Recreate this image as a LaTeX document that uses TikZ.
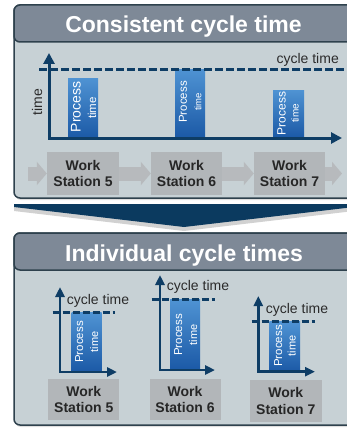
\documentclass[tikz,border=0pt]{standalone}
\usepackage{fontspec}
\setmainfont{Liberation Sans}
\usetikzlibrary{arrows.meta,shadows}
\definecolor{bodyc}{HTML}{C7D1D5}
\definecolor{headc}{HTML}{7E8997}
\definecolor{borderc}{HTML}{2E414D}
\definecolor{navy}{HTML}{0E3D65}
\definecolor{bartop}{HTML}{4F93D3}
\definecolor{barbot}{HTML}{1B59A6}
\definecolor{stc}{HTML}{B2B6B9}
\definecolor{sttext}{HTML}{262626}
\definecolor{arrc}{HTML}{B7BABD}
\definecolor{bigarr}{HTML}{0B3A5F}
\definecolor{labc}{HTML}{2B2B2B}
\begin{document}
\begin{tikzpicture}[x=1pt,y=-1pt,
  panel/.style={fill=bodyc,draw=borderc,line width=1.5pt,rounded corners=6pt,
    drop shadow={opacity=0.25,shadow xshift=1pt,shadow yshift=-2pt}},
  header/.style={fill=headc,draw=borderc,line width=1.5pt,rounded corners=6pt},
  headtext/.style={text=white,font=\fontsize{23}{27}\selectfont\bfseries,anchor=base,inner sep=0pt},
  axis/.style={draw=navy,line width=3pt,line join=miter,
    {Triangle[length=11pt,width=11pt]}-{Triangle[length=11pt,width=11pt]}},
  maxis/.style={draw=navy,line width=2.5pt,line join=miter,
    {Triangle[length=10pt,width=9pt]}-{Triangle[length=10pt,width=9pt]}},
  cyc/.style={draw=navy,line width=3pt,dash pattern=on 7.5pt off 3.5pt},
  mcyc/.style={draw=navy,line width=2.5pt,dash pattern=on 7pt off 3pt},
  bar/.style={top color=bartop,bottom color=barbot,draw=none},
  ptext/.style={text=white,rotate=90,inner sep=0pt},
  lab/.style={text=labc,font=\fontsize{14}{16}\selectfont,inner sep=0pt},
  station/.style={fill=stc,text=sttext,font=\fontsize{14}{16.5}\selectfont\bfseries,
    align=center,inner sep=0pt},
  flow/.style={draw=arrc,line width=14pt,-{Triangle[length=10pt,width=23pt]}}
]
\useasboundingbox (0,0) rectangle (347,428);
\clip (0,0) rectangle (347,428);
\fill[white] (0,0) rectangle (347,428);

% ---------- top panel ----------
\path[panel] (14,5) rectangle (370,198);
\path[header] (14,5) rectangle (370,42);
\node[headtext] (h1) at (183.5,33) {Consistent cycle time};

% bars
\path[bar] (68,78) rectangle (98,138);
\path[bar] (175,69) rectangle (205,138);
\path[bar] (273,90) rectangle (304,138);
\node[ptext,font=\fontsize{14}{14}\selectfont] (p1) at (76,107) {Process};
\node[ptext,font=\fontsize{11.5}{12}\selectfont] (t1) at (92,108) {time};
\node[ptext,font=\fontsize{11.5}{12}\selectfont] (p2) at (183,102) {Process};
\node[ptext,font=\fontsize{9.5}{10}\selectfont] (t2) at (198,102) {time};
\node[ptext,font=\fontsize{12}{12}\selectfont] (p3) at (281.5,113.5) {Process};
\node[ptext,font=\fontsize{10}{10}\selectfont] (t3) at (295,113.5) {time};

% cycle line and axes
\coordinate (cl) at (39,69);
\coordinate (cr) at (347,69);
\draw[cyc] (cl) -- (cr);
\node[lab,anchor=east] (ct) at (339,60) {cycle time};
\coordinate (ya) at (49,53);
\coordinate (o) at (49,138);
\coordinate (xa) at (342,138);
\draw[axis] (ya) -- (o) -- (xa);
\node[lab,rotate=90] (tl) at (37,102) {time};

% stations
\node[station,minimum width=72pt,minimum height=43pt] (s5) at (83,173.5) {Work\\Station 5};
\node[station,minimum width=71pt,minimum height=43pt] (s6) at (186.5,173.5) {Work\\Station 6};
\node[station,minimum width=71pt,minimum height=43pt] (s7) at (289.5,173.5) {Work\\Station 7};
\coordinate (fin) at (28,173.5);
\coordinate (fout) at (342,173.5);
\draw[flow] (fin) -- (s5);
\draw[flow] (s5) -- (s6);
\draw[flow] (s6) -- (s7);
\draw[flow] (s7) -- (fout);

% ---------- big arrow ----------
\fill[black,opacity=0.18] (14,207) -- (354,207) -- (354,211) -- (184,231) -- (14,211) -- cycle;
\fill[bigarr] (14,204) -- (354,204) -- (354,207) -- (184,227) -- (14,207) -- cycle;

% ---------- bottom panel ----------
\path[panel] (14,233) rectangle (370,425);
\path[header] (14,233) rectangle (370,270);
\node[headtext] (h2) at (184,261) {Individual cycle times};

% chart 1
\path[bar] (71.7,312.7) rectangle (101.7,372);
\node[ptext,font=\fontsize{11.5}{12}\selectfont] (q1) at (79.3,342) {Process};
\node[ptext,font=\fontsize{11}{11}\selectfont] (u1) at (94.3,342) {time};
\draw[mcyc] (52.5,312.7) -- (115,312.7);
\draw[maxis] (60,287) -- (60,372) -- (117,372);
\node[lab] (c1) at (98,301) {cycle time};

% chart 2
\path[bar] (170,299.3) rectangle (200,370);
\node[ptext,font=\fontsize{11.5}{12}\selectfont] (q2) at (178.3,335) {Process};
\node[ptext,font=\fontsize{11}{11}\selectfont] (u2) at (193.3,335) {time};
\draw[mcyc] (151.7,299.3) -- (215,299.3);
\draw[maxis] (160,275) -- (160,370) -- (215,370);
\node[lab] (c2) at (198,287.3) {cycle time};

% chart 3
\path[bar] (269.3,321.7) rectangle (300,371.7);
\node[ptext,font=\fontsize{11.5}{12}\selectfont] (q3) at (278.3,346) {Process};
\node[ptext,font=\fontsize{11}{11}\selectfont] (u3) at (291.7,346) {time};
\draw[mcyc] (251.7,321.7) -- (315,321.7);
\draw[maxis] (258.3,296) -- (258.3,371.7) -- (315,371.7);
\node[lab] (c3) at (297,310) {cycle time};

% stations
\node[station,minimum width=71pt,minimum height=41pt] (b5) at (83.8,399.7) {Work\\Station 5};
\node[station,minimum width=71pt,minimum height=41pt] (b6) at (185,399.7) {Work\\Station 6};
\node[station,minimum width=72pt,minimum height=42pt] (b7) at (285.8,401) {Work\\Station 7};
\end{tikzpicture}
\end{document}
